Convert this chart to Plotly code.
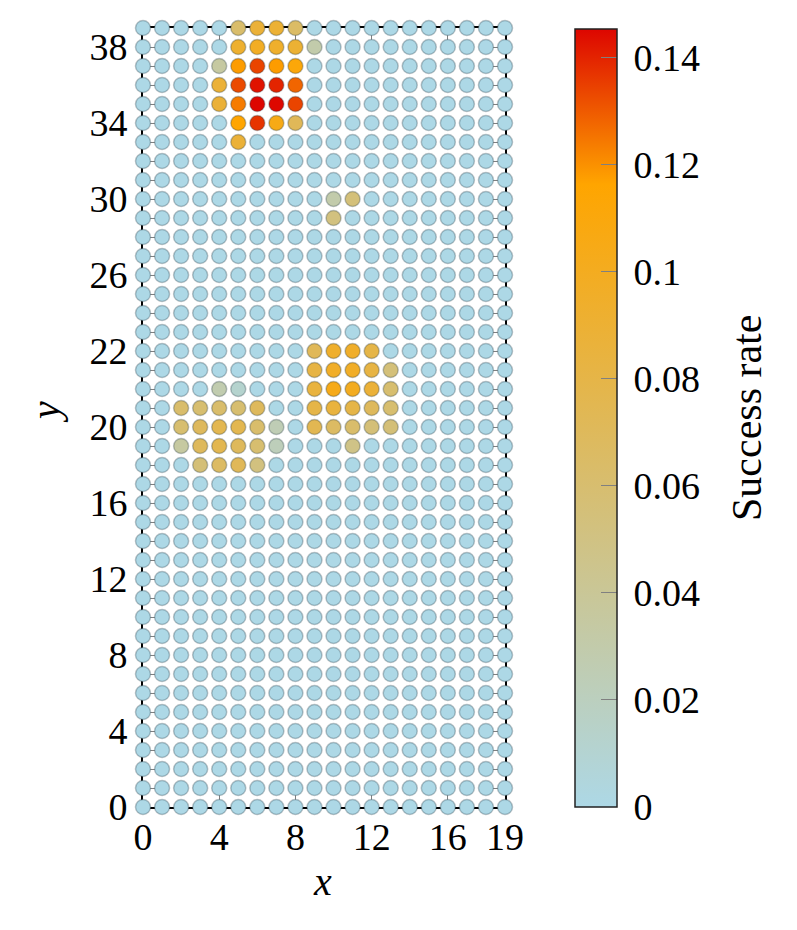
import plotly.graph_objects as go

# grid size
n_x = 20
n_y = 42

# non-zero success rates: (x, y, value)
hot_x = [5, 6, 7, 8,
         5, 6, 7, 8, 9,
         4, 5, 6, 7, 8,
         4, 5, 6, 7, 8,
         4, 5, 6, 7, 8,
         5, 6, 7, 8,
         5,
         10, 11,
         10,
         9, 10, 11, 12,
         9, 10, 11, 12, 13,
         4, 5, 9, 10, 11, 12, 13,
         2, 3, 4, 5, 6, 9, 10, 11, 12, 13,
         2, 3, 4, 5, 6, 7, 9, 10, 11, 12, 13,
         2, 3, 4, 5, 6, 7, 11,
         3, 4, 5, 6]
hot_y = [41] * 4 + [40] * 5 + [39] * 5 + [38] * 5 + [37] * 5 + [36] * 4 + [35] + \
        [32] * 2 + [31] + [24] * 4 + [23] * 5 + [22] * 7 + [21] * 10 + [20] * 11 + \
        [19] * 7 + [18] * 4
hot_v = [0.062, 0.088, 0.090, 0.065,
         0.092, 0.098, 0.094, 0.090, 0.030,
         0.035, 0.118, 0.134, 0.118, 0.112,
         0.088, 0.133, 0.143, 0.140, 0.128,
         0.088, 0.124, 0.1455, 0.145, 0.134,
         0.116, 0.137, 0.105, 0.072,
         0.088,
         0.030, 0.055,
         0.052,
         0.072, 0.094, 0.095, 0.080,
         0.082, 0.096, 0.096, 0.082, 0.055,
         0.028, 0.012, 0.085, 0.104, 0.100, 0.088, 0.060,
         0.062, 0.060, 0.062, 0.060, 0.070, 0.080, 0.085, 0.080, 0.070, 0.060,
         0.060, 0.070, 0.076, 0.076, 0.062, 0.025, 0.075, 0.066, 0.062, 0.056, 0.056,
         0.035, 0.070, 0.076, 0.070, 0.060, 0.022, 0.048,
         0.056, 0.066, 0.072, 0.052]

x_tickvals = [0, 4, 8, 12, 16, 19]
y_tickvals = [0, 4, 8, 12, 16, 20, 24, 28, 32, 36, 40]
y_ticktext = ["0", "4", "8", "12", "16", "20", "22", "26", "30", "34", "38"]
cb_tickvals = [0, 0.02, 0.04, 0.06, 0.08, 0.1, 0.12, 0.14]
cb_ticktext = ["0", "0.02", "0.04", "0.06", "0.08", "0.1", "0.12", "0.14"]
c_max = 0.1454

rate = {(x, y): 0.0 for y in range(n_y) for x in range(n_x)}
for x, y, v in zip(hot_x, hot_y, hot_v):
    rate[(x, y)] = v
xs = [k[0] for k in rate]
ys = [k[1] for k in rate]
vs = [rate[k] for k in rate]

FONT = "Liberation Serif"
FS = 38

# page offset of 8 px (body margin) is accounted for in margins
L, R, T, B = 135, 300, 20, 131
PW = 797 - L - R   # 362
PH = 930 - T - B   # 779

fig = go.Figure()
fig.add_trace(go.Scatter(
    x=xs, y=ys, mode="markers", cliponaxis=False,
    marker=dict(
        size=15, color=vs, cmin=0, cmax=c_max,
        colorscale=[[0, "rgb(173,216,230)"], [0.8, "rgb(255,165,0)"], [1, "rgb(221,6,0)"]],
        line=dict(width=1.5, color="rgba(40,60,70,0.3)"),
        colorbar=dict(
            x=(575 - 143) / PW, xanchor="left", xpad=0, ypad=0,
            y=(807 - 418) / PH, yanchor="middle",
            lenmode="pixels", len=778, thickness=42,
            outlinecolor="#222", outlinewidth=1.5,
            tickvals=cb_tickvals, ticktext=["\u2009" + t for t in cb_ticktext],
            ticks="inside", ticklen=16, tickcolor="gray", tickwidth=1,
            tickfont=dict(family=FONT, size=FS, color="black"),
        ),
    ),
    showlegend=False,
))

axis_common = dict(
    showgrid=False, zeroline=False, showline=True, linecolor="black", linewidth=1.6,
    mirror="allticks", ticks="inside", ticklen=14, tickcolor="gray", tickwidth=1,
    layer="below traces", tickfont=dict(family=FONT, size=FS, color="black"),
)

fig.update_layout(
    width=797, height=930,
    margin=dict(l=L, r=R, t=T, b=B, autoexpand=False),
    paper_bgcolor="white", plot_bgcolor="white",
    xaxis=dict(range=[0, 19], tickvals=x_tickvals, ticklabelstandoff=-4, **axis_common),
    yaxis=dict(range=[0, 41], tickvals=y_tickvals, ticktext=y_ticktext, ticklabelstandoff=6,
               minor=dict(tick0=0, dtick=1, ticks="inside", ticklen=14, tickcolor="gray", tickwidth=1),
               **axis_common),
    annotations=[
        dict(text="<i>x</i>", xref="paper", yref="paper", x=(322 - 143) / PW, y=(807 - 882) / PH,
             showarrow=False, xanchor="center", yanchor="middle",
             font=dict(family=FONT, size=FS + 2, color="black")),
        dict(text="<i>y</i>", xref="paper", yref="paper", x=(45 - 143) / PW, y=(807 - 412) / PH,
             showarrow=False, xanchor="center", yanchor="middle", textangle=-90,
             font=dict(family=FONT, size=FS + 2, color="black")),
        dict(text="Success rate", xref="paper", yref="paper", x=(747 - 143) / PW, y=(807 - 418) / PH,
             showarrow=False, xanchor="center", yanchor="middle", textangle=-90,
             font=dict(family=FONT, size=FS + 4, color="black")),
    ],
)

fig.write_html("out.html")
